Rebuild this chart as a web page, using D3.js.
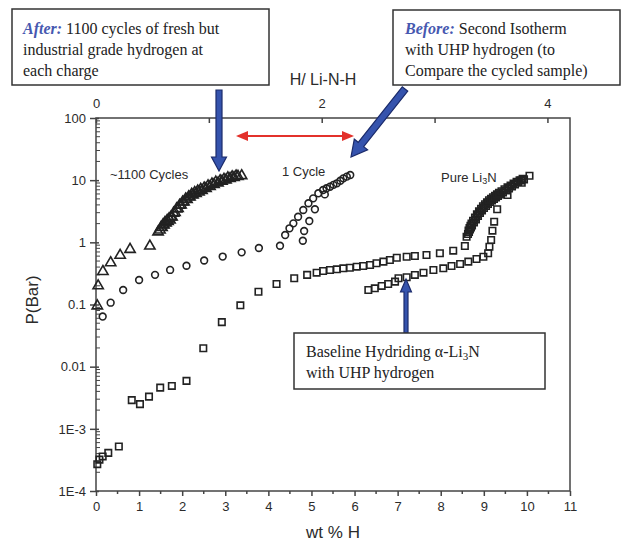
<!DOCTYPE html>
<html><head><meta charset="utf-8">
<script src="https://cdn.jsdelivr.net/npm/d3@7"></script>
<style>body{margin:0;background:#fff}svg{display:block}</style>
</head><body>
<svg id="c" width="628" height="544"></svg>
<script>
// ---- data ----
const cycles1100 = [ // wt %H, P(bar)  (triangles)
 [0.03,0.095],[0.05,0.20],[0.16,0.34],[0.34,0.47],[0.56,0.62],[0.79,0.77],[1.25,0.87],[1.44,1.47],
 [1.485,1.58],[1.532,1.73],[1.578,1.90],[1.625,2.05],[1.671,2.16],[1.717,2.29],[1.764,2.56],[1.833,3.02],
 [1.903,3.50],[1.973,3.99],[2.042,4.46],[2.112,4.89],[2.181,5.36],[2.251,5.78],[2.321,6.11],[2.390,6.45],
 [2.460,6.82],[2.553,7.35],[2.646,7.91],[2.739,8.51],[2.831,9.00],[2.924,9.59],[3.017,10.07],[3.110,10.6],
 [3.203,11.0],[3.295,11.5],[3.38,11.8],
 [1.51,1.75],[1.555,1.92],[1.60,2.08],[1.65,2.25],[1.695,2.40],[1.74,2.55],[1.80,2.95],[1.87,3.45],
 [1.94,3.95],[2.01,4.45],[2.08,4.95],[2.15,5.4],[2.22,5.9],[2.29,6.3],[2.36,6.7],[2.43,7.1],[2.51,7.5],
 [2.60,8.1],[2.69,8.7],[2.78,9.3],[2.88,9.8],[2.97,10.3],[3.06,10.9],[3.16,11.3],[3.25,11.7]
];
const cycle1 = [ // circles
 [0.155,0.064],[0.34,0.107],[0.63,0.171],[1.00,0.248],[1.37,0.30],[1.72,0.36],[2.10,0.42],[2.51,0.51],
 [2.94,0.59],[3.38,0.69],[3.78,0.81],[4.27,0.88],[4.80,1.06],[4.83,1.52],[4.95,2.2],[5.08,3.4],[5.31,5.9],
 [4.39,1.31],[4.49,1.68],[4.58,2.02],[4.69,2.58],[4.81,3.31],[4.93,4.25],[5.04,5.1],[5.16,6.15],
 [5.27,6.95],[5.35,7.4],[5.43,7.85],[5.51,8.4],[5.59,8.9],[5.67,9.8],[5.74,10.7],[5.82,11.4],[5.90,12.1]
];
const pureLi3N = [ // squares, first isotherm
 [0.03,2.7e-4],[0.08,3.2e-4],[0.155,3.6e-4],[0.285,4.1e-4],[0.53,5.2e-4],[0.83,2.9e-3],[1.02,2.5e-3],
 [1.23,3.3e-3],[1.49,4.6e-3],[1.76,4.9e-3],[2.10,5.9e-3],[2.49,0.0198],[2.92,0.052],[3.35,0.097],
 [3.77,0.16],[4.19,0.214],[4.60,0.264],[4.90,0.30],[5.12,0.325],[5.27,0.346],[5.43,0.359],[5.59,0.368],
 [5.74,0.382],[5.89,0.391],[6.05,0.406],[6.20,0.416],[6.36,0.432],[6.51,0.46],[6.67,0.489],[6.82,0.52],
 [6.98,0.566],[7.21,0.587],[7.40,0.603],[7.67,0.625],[7.98,0.667],[8.29,0.734],[8.56,0.873],[8.60,1.23],
 [8.633,1.36],[8.656,1.47],[8.679,1.61],[8.702,1.73],[8.726,1.87],[8.772,2.08],[8.818,2.33],[8.865,2.65],
 [8.911,2.96],[8.958,3.25],[9.004,3.57],[9.051,3.84],[9.097,4.14],[9.144,4.46],[9.190,4.71],[9.236,4.98],
 [9.283,5.26],[9.329,5.56],[9.376,5.88],[9.445,6.33],[9.515,6.82],[9.585,7.35],[9.654,7.91],[9.724,8.51],
 [9.793,9.35],[9.863,9.89],[9.933,10.3],
 [8.645,1.55],[8.668,1.70],[8.69,1.85],[8.714,2.0],[8.75,2.22],[8.795,2.5],[8.84,2.82],[8.888,3.15],
 [8.935,3.45],[8.98,3.8],[9.027,4.1],[9.074,4.4],[9.12,4.75],[9.167,5.0],[9.213,5.3],[9.26,5.6],
 [9.306,5.9],[9.352,6.25],[9.41,6.65],[9.48,7.15],[9.55,7.65],[9.62,8.2],[9.69,8.8],[9.76,9.4],
 [9.83,10.0],[9.90,10.5]
];
const baselineLi3N = [ // squares, lower branch
 [6.32,0.171],[6.47,0.182],[6.63,0.199],[6.78,0.214],[6.94,0.233],[7.02,0.264],[7.21,0.274],[7.40,0.299],
 [7.60,0.325],[7.83,0.359],[8.06,0.382],[8.25,0.416],[8.45,0.449],[8.64,0.489],[8.83,0.54],[8.99,0.587],
 [9.10,0.667],[9.13,0.851],[9.17,1.09],[9.20,1.54],[9.24,2.15],[9.31,3.4],[9.55,5.77],[9.88,9.1],[10.06,11.8]
];
const yTicks = [1e-4,1e-3,0.01,0.1,1,10,100];
const yTickLabels = ["1E-4","1E-3","0.01","0.1","1","10","100"];
const xTicks = [0,1,2,3,4,5,6,7,8,9,10,11];
const topTicks = [0,1,2,3,4];
const topTickLabels = ["0","","2","","4"];

// ---- chart ----
const svg = d3.select("#c");
const L=96,R=570,T=118,B=491;
const x = d3.scaleLinear().domain([0,11]).range([L,R]);
const y = d3.scaleLog().domain([1e-4,100]).range([B,T]);
const xTop = d3.scaleLinear().domain([0,4.2]).range([L,R]);
const axisColor="#444", txt="#2b2b2b";
const sans="Liberation Sans, Arial, sans-serif", serif="Liberation Serif, 'Times New Roman', serif";

// frame
svg.append("rect").attr("x",L).attr("y",T).attr("width",R-L).attr("height",B-T)
  .attr("fill","none").attr("stroke",axisColor).attr("stroke-width",1.5);

// bottom axis
const xMinor = d3.range(0.5,11,1);
const gx = svg.append("g").attr("transform",`translate(0,${B})`)
  .call(d3.axisBottom(x).tickValues(xTicks).tickFormat(d3.format("d")).tickSize(5).tickPadding(6));
gx.select(".domain").remove();
gx.selectAll(".tick line").attr("stroke",axisColor).attr("stroke-width",1.5);
gx.selectAll("text").attr("font-family",sans).attr("font-size",13).attr("fill",txt);
svg.append("g").selectAll("line").data(xMinor).join("line")
  .attr("x1",d=>x(d)).attr("x2",d=>x(d)).attr("y1",B).attr("y2",B+3).attr("stroke",axisColor).attr("stroke-width",1.5);

// left axis
const gy = svg.append("g").attr("transform",`translate(${L},0)`)
  .call(d3.axisLeft(y).tickValues(yTicks).tickFormat((d,i)=>yTickLabels[i]).tickSize(6).tickPadding(4));
gy.select(".domain").remove();
gy.selectAll(".tick line").attr("stroke",axisColor).attr("stroke-width",1.5).attr("x2",-6).attr("x1",3);
gy.selectAll("text").attr("font-family",sans).attr("font-size",13).attr("fill",txt);
const yMinor=[];
for(let e=-4;e<2;e++) for(let k=2;k<10;k++) yMinor.push(k*Math.pow(10,e));
svg.append("g").selectAll("line").data(yMinor).join("line")
  .attr("x1",L).attr("x2",L+4).attr("y1",d=>y(d)).attr("y2",d=>y(d)).attr("stroke",axisColor).attr("stroke-width",1);

// top axis
const gt = svg.append("g").attr("transform",`translate(0,${T})`)
  .call(d3.axisTop(xTop).tickValues(topTicks).tickFormat((d,i)=>topTickLabels[i]).tickSize(-5).tickPadding(10));
gt.select(".domain").remove();
gt.selectAll(".tick line").attr("stroke",axisColor).attr("stroke-width",1.5);
gt.selectAll("text").attr("font-family",sans).attr("font-size",13).attr("fill",txt);

// axis titles
svg.append("text").attr("x",333).attr("y",538).attr("text-anchor","middle").attr("font-family",sans)
  .attr("font-size",17).attr("fill",txt).text("wt % H");
svg.append("text").attr("transform","translate(38,300) rotate(-90)").attr("text-anchor","middle")
  .attr("font-family",sans).attr("font-size",17).attr("fill",txt).text("P(Bar)");
svg.append("text").attr("x",323).attr("y",85).attr("text-anchor","middle").attr("font-family",sans)
  .attr("font-size",16).attr("fill",txt).text("H/ Li-N-H");

// markers
const mk="#222";
function plot(data, type, size){
  svg.append("g").selectAll("path").data(data).join("path")
    .attr("transform",d=>`translate(${x(d[0])},${y(d[1])})`)
    .attr("d",d3.symbol().type(type).size(size)())
    .attr("fill","none").attr("stroke",mk).attr("stroke-width",1.6);
}
plot(pureLi3N,d3.symbolSquare,42);
plot(baselineLi3N,d3.symbolSquare,42);
plot(cycle1,d3.symbolCircle,36);
plot(cycles1100,d3.symbolTriangle,46);

// in-plot labels
svg.append("text").attr("x",110).attr("y",179).attr("font-family",sans).attr("font-size",13).attr("fill",txt).text("~1100 Cycles");
svg.append("text").attr("x",282).attr("y",176).attr("font-family",sans).attr("font-size",13).attr("fill",txt).text("1 Cycle");
const pl = svg.append("text").attr("x",441).attr("y",182).attr("font-family",sans).attr("font-size",13).attr("fill",txt);
pl.append("tspan").text("Pure Li");
pl.append("tspan").attr("font-size",9).attr("dy",2).text("3");
pl.append("tspan").attr("dy",-2).text("N");

// annotation arrows
function blockArrow(x1,y1,x2,y2,sw,hw,hl){
  const dx=x2-x1, dy=y2-y1, len=Math.hypot(dx,dy), ux=dx/len, uy=dy/len, nx=-uy, ny=ux;
  const bx=x2-ux*hl, by=y2-uy*hl;
  const p=[[x1+nx*sw/2,y1+ny*sw/2],[bx+nx*sw/2,by+ny*sw/2],[bx+nx*hw/2,by+ny*hw/2],[x2,y2],
           [bx-nx*hw/2,by-ny*hw/2],[bx-nx*sw/2,by-ny*sw/2],[x1-nx*sw/2,y1-ny*sw/2]];
  return "M"+p.map(q=>q.join(",")).join("L")+"Z";
}
const blue="#3553ad", navy="#1b2b6b";
svg.append("path").attr("d",blockArrow(219,90,219,171,6,15,14)).attr("fill",blue).attr("stroke",navy).attr("stroke-width",1.2);
svg.append("path").attr("d",blockArrow(405,89,351,157,7,17,16)).attr("fill",blue).attr("stroke",navy).attr("stroke-width",1.2);
svg.append("path").attr("d",blockArrow(406,333,406,279,4,11,13)).attr("fill",blue).attr("stroke",navy).attr("stroke-width",1.2);

// red double arrow
const red="#e3312b";
svg.append("line").attr("x1",244).attr("x2",346).attr("y1",136).attr("y2",136).attr("stroke",red).attr("stroke-width",2);
svg.append("path").attr("d","M236,136L248,131L248,141Z").attr("fill",red);
svg.append("path").attr("d","M354,136L342,131L342,141Z").attr("fill",red);

// annotation boxes
function box(x0,y0,w,h){
  svg.append("rect").attr("x",x0).attr("y",y0).attr("width",w).attr("height",h)
    .attr("fill","#fff").attr("stroke","#333").attr("stroke-width",1.5);
}
const lblue="#4658b0";
box(12,9,257,76);
let t = svg.append("text").attr("font-family",serif).attr("font-size",16).attr("fill","#222");
t.append("tspan").attr("x",23).attr("y",34).attr("font-weight","bold").attr("font-style","italic").attr("fill",lblue).text("After:");
t.append("tspan").text(" 1100 cycles of fresh but");
t.append("tspan").attr("x",23).attr("y",55).text("industrial grade hydrogen at");
t.append("tspan").attr("x",23).attr("y",76).text("each charge");

box(393,10,227,75);
t = svg.append("text").attr("font-family",serif).attr("font-size",16).attr("fill","#222");
t.append("tspan").attr("x",405).attr("y",34).attr("font-weight","bold").attr("font-style","italic").attr("fill",lblue).text("Before:");
t.append("tspan").text(" Second Isotherm");
t.append("tspan").attr("x",405).attr("y",55).text("with UHP hydrogen (to");
t.append("tspan").attr("x",405).attr("y",76).text("Compare the cycled sample)");

box(294,333,251,56);
t = svg.append("text").attr("font-family",serif).attr("font-size",16).attr("fill","#222");
t.append("tspan").attr("x",306).attr("y",357).text("Baseline Hydriding \u03B1-Li");
t.append("tspan").attr("font-size",11).attr("dy",3).text("3");
t.append("tspan").attr("dy",-3).text("N");
t.append("tspan").attr("x",306).attr("y",378).text("with UHP hydrogen");
</script>
</body></html>
